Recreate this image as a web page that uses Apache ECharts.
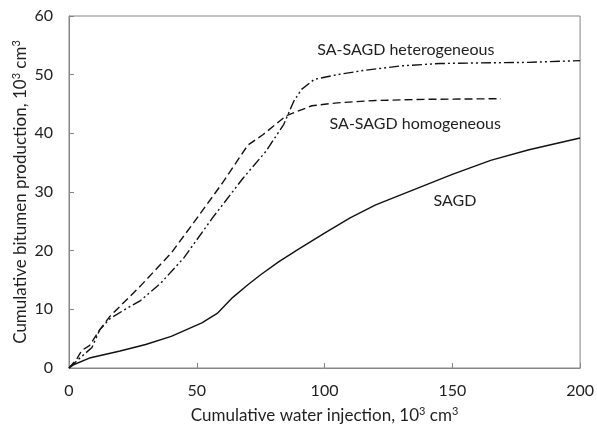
<!DOCTYPE html>
<html>
<head>
<meta charset="utf-8">
<script src="https://cdn.jsdelivr.net/npm/echarts@6/dist/echarts.min.js"></script>
<style>
  html, body { margin: 0; padding: 0; background: #fff; }
  #chart { width: 597px; height: 429px; }
</style>
</head>
<body>
<div id="chart"></div>
<script>
// Cumulative water injection (10^3 cm^3) vs cumulative bitumen production (10^3 cm^3)
const sagd = [
  [0, 0], [2, 0.6], [8, 1.7], [20, 2.9], [30, 4.0], [40, 5.4], [52, 7.7], [58, 9.3],
  [64, 12.0], [70, 14.2], [75, 15.9], [82, 18.1], [90, 20.3], [100, 23.0], [110, 25.6],
  [120, 27.8], [135, 30.4], [150, 33.0], [165, 35.4], [180, 37.2], [200, 39.2]
];
const saSagdHomogeneous = [
  [0, 0], [3, 1.5], [5, 3.0], [8, 3.8], [12, 6.5], [16, 8.8], [28, 14.0], [40, 19.6],
  [50, 25.5], [60, 31.5], [70, 38.0], [76, 39.8], [85, 43.0], [95, 44.7], [105, 45.2],
  [120, 45.6], [140, 45.8], [169, 45.9]
];
const saSagdHeterogeneous = [
  [0, 0], [4, 1.6], [9, 3.5], [12, 6.5], [16, 8.4], [22, 10.0], [28, 11.5], [36, 14.5],
  [45, 18.8], [56, 25.5], [68, 32.3], [77, 36.9], [84, 41.5], [88, 45.5], [91, 47.5],
  [96, 49.2], [105, 50.0], [115, 50.7], [130, 51.5], [145, 51.9], [160, 52.0],
  [180, 52.1], [200, 52.4]
];
const seriesNames = ['SAGD', 'SA-SAGD homogeneous', 'SA-SAGD heterogeneous'];
// where each curve's caption sits, in data units
const captionAt = [[151, 28.5], [135.5, 41.6], [131.8, 54.2]];

const FONT = 'Lato';
const TEXT = '#1f1f1f';
const AXIS = '#868686';

const chart = echarts.init(document.getElementById('chart'), null, { renderer: 'canvas' });

function lineSeries(name, data, dash, caption) {
  return {
    name: name,
    type: 'line',
    data: data,
    symbol: 'none',
    smooth: false,
    lineStyle: { color: '#111', width: 1.4, type: dash },
    markPoint: {
      symbol: 'circle',
      symbolSize: 0,
      data: [{ coord: caption, value: name }],
      label: {
        show: true,
        position: 'inside',
        formatter: name,
        color: TEXT,
        fontFamily: FONT,
        fontSize: 16
      }
    },
    z: 3
  };
}

const supRich = {
  sup: { fontSize: 11, verticalAlign: 'top', padding: [0, 0, 8, 0], color: TEXT, fontFamily: FONT }
};

chart.setOption({
  animation: false,
  grid: {
    left: 69, right: 15, top: 16, bottom: 56,
    show: true, borderColor: AXIS, borderWidth: 1
  },
  xAxis: {
    type: 'value', min: 0, max: 200, interval: 50,
    name: 'Cumulative water injection, 10{sup|3} cm{sup|3}',
    nameLocation: 'middle', nameGap: 38,
    nameTextStyle: { color: TEXT, fontFamily: FONT, fontSize: 17, rich: supRich },
    axisLine: { lineStyle: { color: AXIS, width: 1 } },
    axisTick: { inside: true, length: 5, lineStyle: { color: AXIS } },
    axisLabel: { color: TEXT, fontFamily: FONT, fontSize: 16, margin: 15 },
    splitLine: { show: false }
  },
  yAxis: {
    type: 'value', min: 0, max: 60, interval: 10,
    name: 'Cumulative bitumen production, 10{sup|3} cm{sup|3}',
    nameLocation: 'middle', nameGap: 39, nameMoveOverlap: false,
    nameTextStyle: { color: TEXT, fontFamily: FONT, fontSize: 17, rich: supRich },
    axisLine: { show: true, lineStyle: { color: AXIS, width: 1 } },
    axisTick: { show: true, inside: true, length: 5, lineStyle: { color: AXIS } },
    axisLabel: { color: TEXT, fontFamily: FONT, fontSize: 16, margin: 16 },
    splitLine: { show: false }
  },
  series: [
    lineSeries(seriesNames[0], sagd, 'solid', captionAt[0]),
    lineSeries(seriesNames[1], saSagdHomogeneous, [8, 4], captionAt[1]),
    lineSeries(seriesNames[2], saSagdHeterogeneous, [10, 3, 2, 3, 2, 3], captionAt[2])
  ]
});
</script>
</body>
</html>
